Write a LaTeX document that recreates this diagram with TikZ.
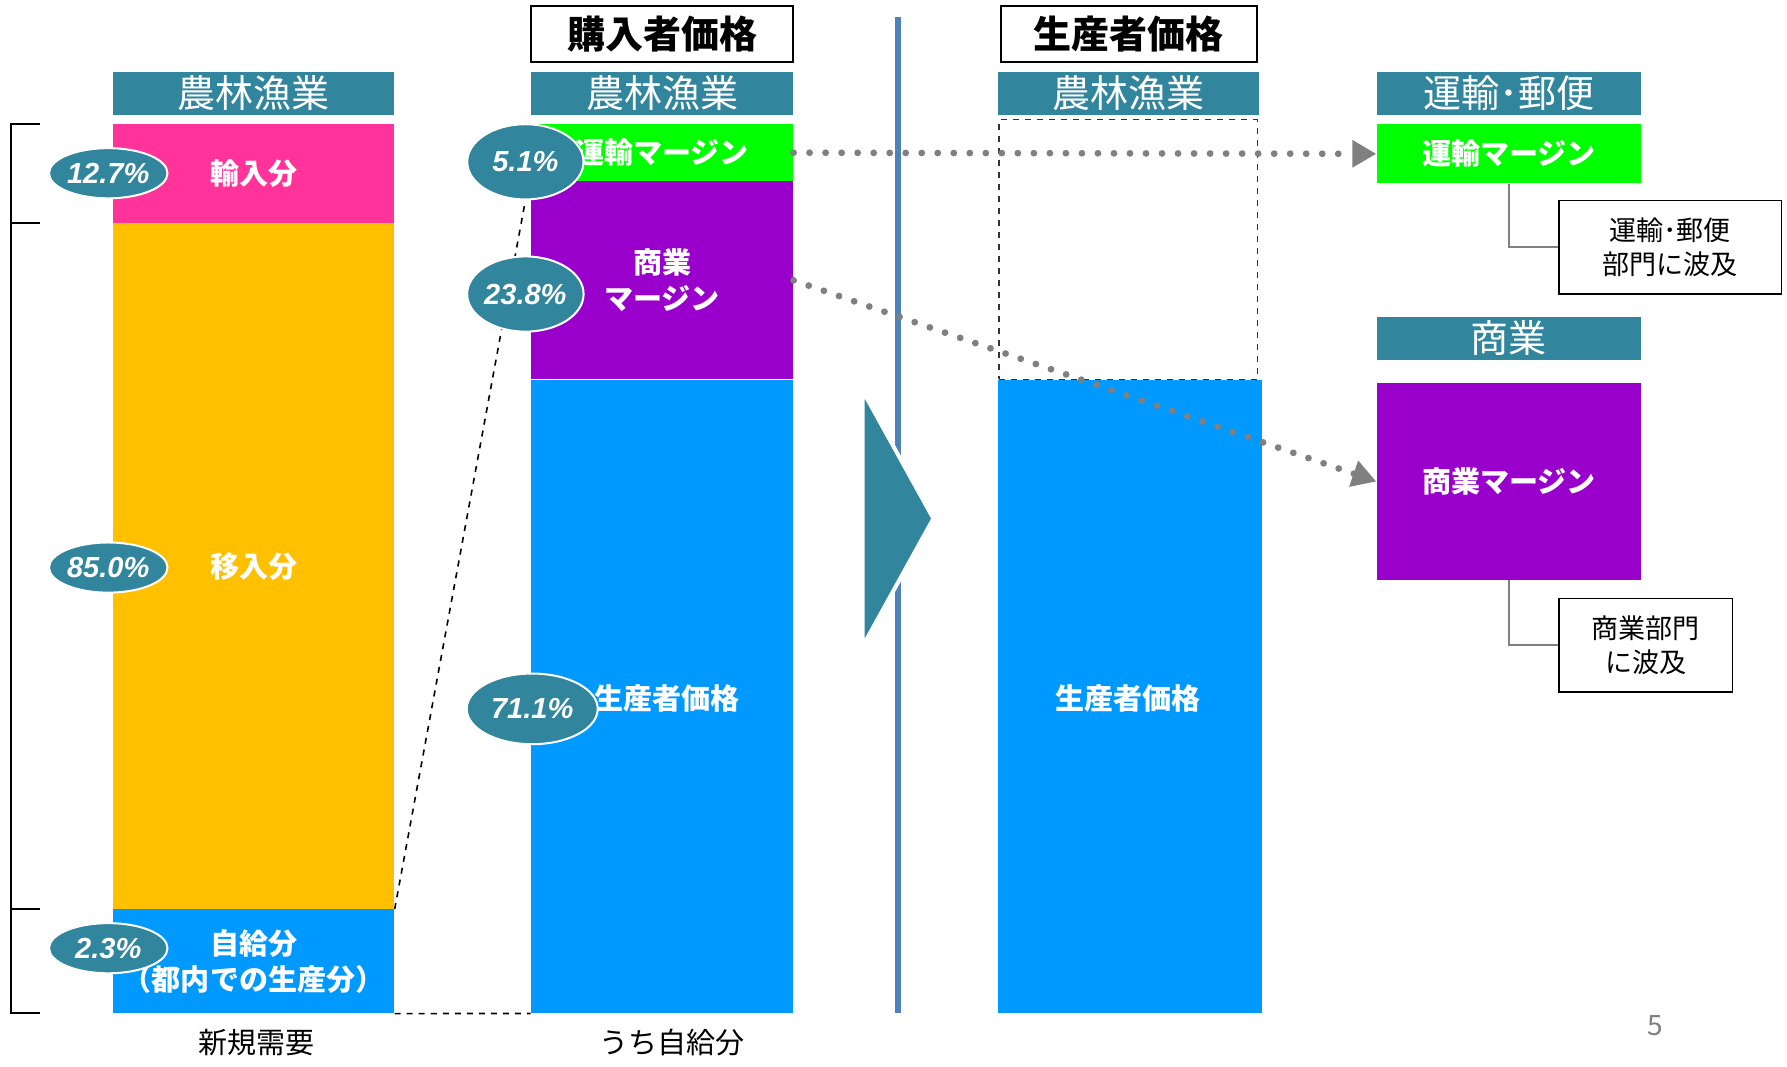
\documentclass[tikz,border=0pt]{standalone}
\usepackage{fontspec}
\setmainfont{Noto Sans CJK JP}
\newfontfamily\pctfont{Liberation Sans}
\usetikzlibrary{arrows.meta,shapes.geometric,backgrounds}

\definecolor{hdrteal}{HTML}{31859C}
\definecolor{imppink}{HTML}{FF3399}
\definecolor{movyellow}{HTML}{FFC000}
\definecolor{selfblue}{HTML}{0099FF}
\definecolor{trgreen}{HTML}{00FF00}
\definecolor{cmpurple}{HTML}{9900CC}
\definecolor{divblue}{HTML}{4F81BD}
\definecolor{dotgray}{HTML}{808080}

\tikzset{
  hdr/.style={fill=hdrteal, text=white, inner sep=0pt, minimum height=0.76cm,
    font=\fontsize{19}{19}\selectfont},
  pricebox/.style={draw=black, line width=1pt, inner sep=0pt, minimum height=0.98cm,
    font=\fontsize{19}{19}\selectfont\bfseries},
  bar/.style={inner sep=0pt, text=white, align=center,
    font=\fontsize{14.5}{18}\selectfont\bfseries},
  pct/.style={ellipse, fill=hdrteal, draw=white, line width=1pt, inner sep=0pt,
    text=white, font=\pctfont\fontsize{14.5}{14.5}\selectfont\bfseries\itshape},
  callout/.style={draw=black, line width=0.8pt, inner sep=0pt, align=center,
    font=\fontsize{13.5}{17}\selectfont},
  dotarrow/.style={dotgray, line width=3.4pt, line cap=round,
    dash pattern=on 0pt off 8pt, -{Triangle[length=12pt,width=13pt]}},
  calloutline/.style={dotgray, line width=1pt},
  caption/.style={font=\fontsize{14.5}{14.5}\selectfont},
}

\begin{document}
\begin{tikzpicture}[x=0.02cm, y=-0.02cm]
    \useasboundingbox (0,0) rectangle (1568,936);

    % New demand bar
    \node[hdr, minimum width=4.94cm] (hdrA) at (222.5,82) {農林漁業};
    \node[bar, fill=imppink, minimum width=4.94cm, minimum height=1.74cm] (imp) at (222.5,152.5) {輸入分};
    \node[bar, fill=movyellow, minimum width=4.94cm, minimum height=12.04cm] (mov) at (222.5,497) {移入分};
    \node[bar, fill=selfblue, minimum width=4.94cm, minimum height=1.82cm] (self) at (222.5,843.5) {自給分\\（都内での生産分）};
    \node[caption] (newdem) at (225,915) {新規需要};

    % Bracket
    \draw[line width=1pt] (35,109) -- (10,109) -- (10,889) -- (35,889);
    \draw[line width=1pt] (10,196) -- (35,196);
    \draw[line width=1pt] (10,798) -- (35,798);

    % Shares
    \node[pct, minimum width=2.08cm, minimum height=0.88cm] (p127) at (95,152) {12.7\%};
    \node[pct, minimum width=2.08cm, minimum height=0.88cm] (p850) at (95,498) {85.0\%};
    \node[pct, minimum width=2.08cm, minimum height=0.88cm] (p23) at (95,832) {2.3\%};

    % Purchaser price bar
    \node[pricebox, minimum width=4.6cm] (purch) at (581,29.5) {購入者価格};
    \node[hdr, minimum width=4.6cm] (hdrB) at (581,82) {農林漁業};
    \node[bar, fill=trgreen, minimum width=4.6cm, minimum height=1.0cm] (trans) at (581,134) {運輸マージン};
    \node[bar, fill=cmpurple, minimum width=4.6cm, minimum height=3.48cm] (comm) at (581,246) {商業\\マージン};
    \node[bar, fill=selfblue, minimum width=4.6cm, minimum height=11.12cm] (prod) at (581,611) {};
    \node[bar] (prodlbl) at (585,613) {生産者価格};
    \node[caption] (ownsup) at (590,915) {うち自給分};

    \node[pct, minimum width=2.04cm, minimum height=1.32cm] (p51) at (461,142) {5.1\%};
    \node[pct, minimum width=2.04cm, minimum height=1.32cm] (p238) at (461,258) {23.8\%};
    \node[pct, minimum width=2.3cm, minimum height=1.24cm] (p711) at (467,622) {71.1\%};

    % Dashed guides
    \begin{pgfonlayer}{background}
      \draw[dashed, line width=0.8pt] (self.north east) -- (p51.south);
      \draw[dashed, line width=0.8pt] (self.south east) -- (prod.south west);
    \end{pgfonlayer}

    % Divider and arrow
    \draw[divblue, line width=2.8pt] (788,15) -- (788,889);
    \fill[hdrteal, draw=white, line width=2pt] (757,343) -- (819,455) -- (757,567) -- cycle;

    % Producer price bar
    \node[pricebox, minimum width=4.5cm] (produ) at (990.5,29.5) {生産者価格};
    \node[hdr, minimum width=4.58cm] (hdrC) at (990.5,82) {農林漁業};
    \node[draw=black!80, dashed, line width=0.6pt, inner sep=0pt, minimum width=4.54cm, minimum height=4.56cm] (gap) at (990,219) {};
    \node[bar, fill=selfblue, minimum width=4.62cm, minimum height=11.12cm] (basic) at (991.5,611) {};
    \node[bar] (basiclbl) at (990,613) {生産者価格};

    % Transport sector
    \node[hdr, minimum width=4.64cm] (hdrD) at (1324,82) {運輸･郵便};
    \node[bar, fill=trgreen, minimum width=4.64cm, minimum height=1.04cm] (tm) at (1324,135) {運輸マージン};
    \node[callout, minimum width=3.9cm, minimum height=1.64cm] (wave1) at (1465.5,217) {運輸･郵便\\部門に波及};
    \draw[calloutline] (tm.south) |- (wave1.west);

    % Commerce sector
    \node[hdr, minimum width=4.64cm] (hdrE) at (1324,297) {商業};
    \node[bar, fill=cmpurple, minimum width=4.64cm, minimum height=3.46cm] (cm) at (1324,422.5) {商業マージン};
    \node[callout, minimum width=3.04cm, minimum height=1.64cm] (wave2) at (1444,566) {商業部門\\に波及};
    \draw[calloutline] (cm.south) |- (wave2.west);

    % Margin flows
    \draw[dotarrow] (trans.east) -- (tm.west);
    \draw[dotarrow] (comm.east) -- (cm.west);

    % Page number
    \node[dotgray, font=\fontsize{14}{14}\selectfont] (pageno) at (1452,900) {5};
\end{tikzpicture}
\end{document}
